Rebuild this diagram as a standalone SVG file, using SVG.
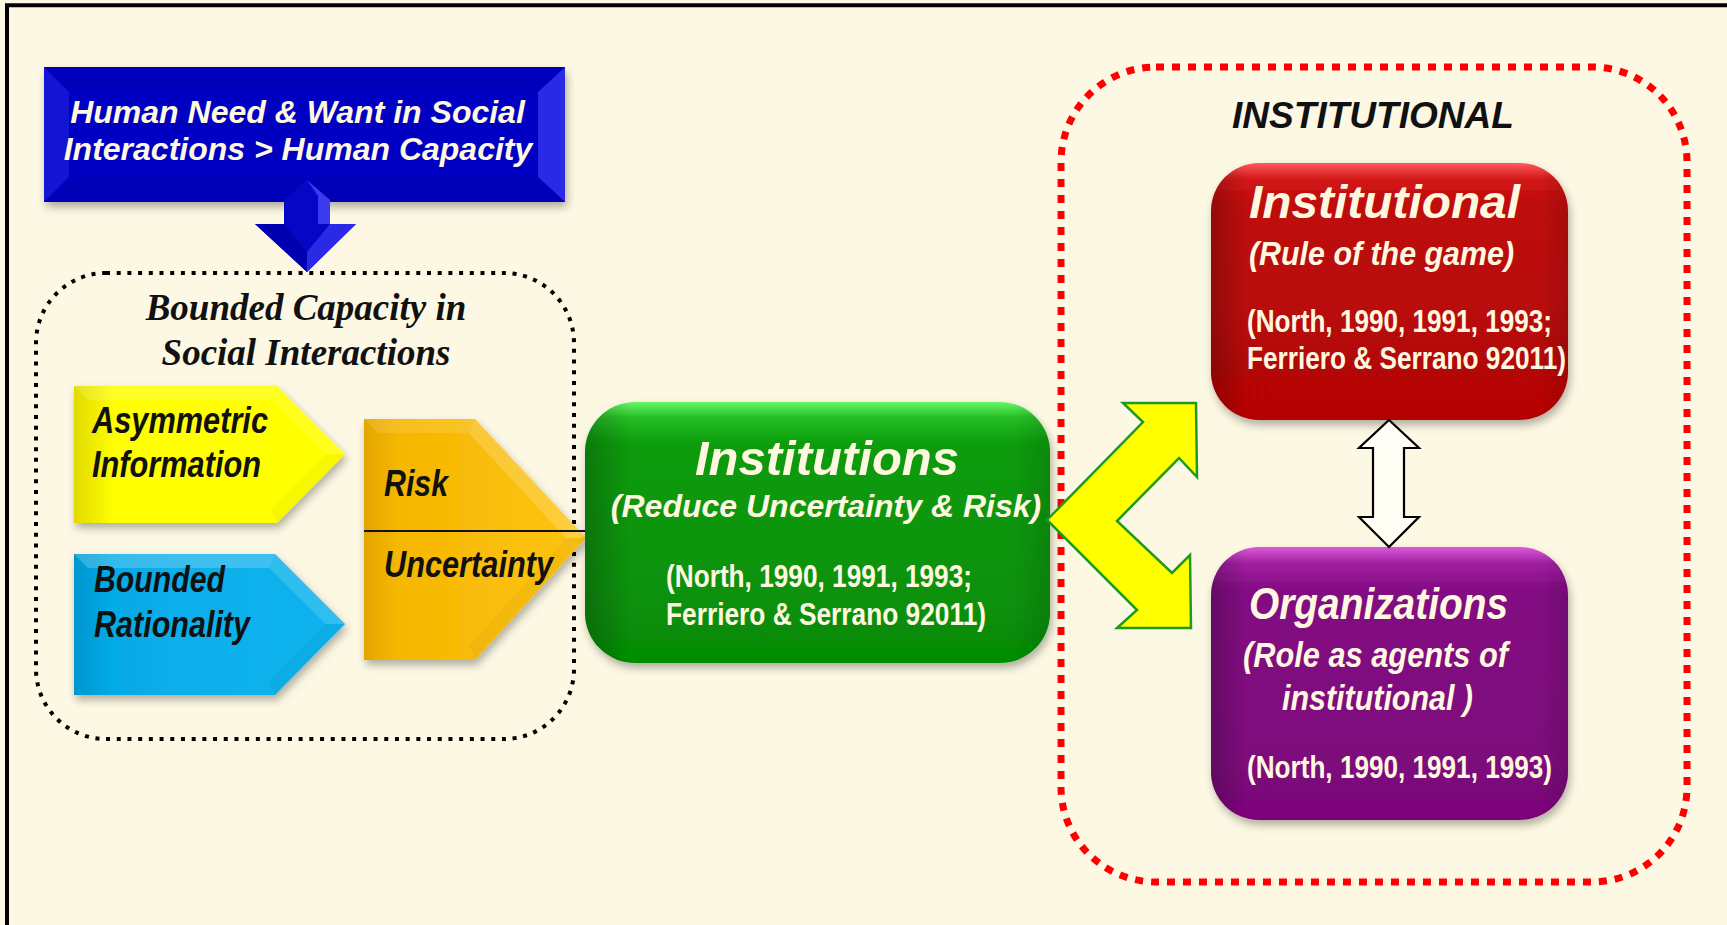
<svg xmlns="http://www.w3.org/2000/svg" width="1727" height="925" viewBox="0 0 1727 925">
<style>
.sb{font-family:"Liberation Sans",Arial,sans-serif;font-weight:bold;font-style:italic}
.nb{font-family:"Liberation Sans Narrow","Liberation Sans",Arial,sans-serif;font-stretch:condensed;font-weight:bold}
.it{font-style:italic}
.serif{font-family:"Liberation Serif","Times New Roman",serif;font-weight:bold;font-style:italic;fill:#111}
.w{fill:#FFF8E0}
.k{fill:#111}
.dotk{fill:none;stroke:#000;stroke-width:4;stroke-dasharray:4 6.7}
.dotr{fill:none;stroke:#FF0000;stroke-width:7;stroke-dasharray:8 8}
.hi{fill:#fff}
.lo{fill:#000}
</style>
<defs>
<filter id="sh" x="-10%" y="-10%" width="125%" height="130%">
<feDropShadow dx="2" dy="5" stdDeviation="4" flood-color="#000" flood-opacity="0.3"/>
</filter>
<linearGradient id="gG" x1="0" y1="0" x2="0" y2="1">
<stop offset="0" stop-color="#66F566"/><stop offset="0.06" stop-color="#26BE26"/><stop offset="0.16" stop-color="#0A9C0A"/><stop offset="1" stop-color="#068C06"/>
</linearGradient>
<linearGradient id="gR" x1="0" y1="0" x2="0" y2="1">
<stop offset="0" stop-color="#FF5A5A"/><stop offset="0.06" stop-color="#D41A1A"/><stop offset="0.16" stop-color="#BE0808"/><stop offset="1" stop-color="#B40606"/>
</linearGradient>
<linearGradient id="gP" x1="0" y1="0" x2="0" y2="1">
<stop offset="0" stop-color="#DA5ADA"/><stop offset="0.06" stop-color="#A020A0"/><stop offset="0.16" stop-color="#820A82"/><stop offset="1" stop-color="#7C067A"/>
</linearGradient>
<linearGradient id="gSide" x1="0" y1="0" x2="1" y2="0">
<stop offset="0" stop-color="#000" stop-opacity="0.22"/><stop offset="0.1" stop-color="#000" stop-opacity="0"/><stop offset="0.92" stop-color="#000" stop-opacity="0"/><stop offset="1" stop-color="#000" stop-opacity="0.12"/>
</linearGradient>
<linearGradient id="gY" x1="0" y1="0" x2="1" y2="0">
<stop offset="0" stop-color="#E2DA00"/><stop offset="0.15" stop-color="#FFFF00"/><stop offset="1" stop-color="#FFFF00"/>
</linearGradient>
<linearGradient id="gC" x1="0" y1="0" x2="1" y2="0">
<stop offset="0" stop-color="#0096CF"/><stop offset="0.15" stop-color="#06ACE8"/><stop offset="1" stop-color="#0AB4EE"/>
</linearGradient>
<linearGradient id="gO" x1="0" y1="0" x2="1" y2="0">
<stop offset="0" stop-color="#E3A500"/><stop offset="0.15" stop-color="#F5B700"/><stop offset="1" stop-color="#FFC414"/>
</linearGradient>
</defs>

<rect x="0" y="0" width="1727" height="925" fill="#FDF8E3"/>
<path d="M7,925 V5.3 H1727" fill="none" stroke="#000" stroke-width="4"/>

<g id="bounded-capacity-group">
<rect class="dotk" x="36" y="273" width="538" height="466" rx="70"/>
<text class="serif" font-size="37" x="306" y="320" text-anchor="middle">Bounded Capacity in</text>
<text class="serif" font-size="37" x="306" y="365" text-anchor="middle">Social Interactions</text>
</g>

<g id="institutional-group">
<rect class="dotr" x="1061" y="67" width="626" height="815" rx="95"/>
<text class="sb k" font-size="36" x="1232" y="128" textLength="282" lengthAdjust="spacingAndGlyphs">INSTITUTIONAL</text>
</g>

<g id="human-need">
<g filter="url(#sh)">
<rect x="44" y="67" width="521" height="135" fill="#0404C2"/>
</g>
<polygon points="44,67 69,92 69,177 44,202" fill="#1414D4"/>
<polygon points="565,67 538,92 538,177 565,202" fill="#2A2AE6"/>
<polygon points="44,67 565,67 538,92 69,92" fill="#0000B4" opacity="0.5"/>
<polygon points="44,202 69,177 538,177 565,202" fill="#0000A8" opacity="0.4"/>
<text class="sb w" font-size="32" x="297.5" y="123" text-anchor="middle">Human Need &amp; Want in Social</text>
<text class="sb w" font-size="32" x="298" y="160" text-anchor="middle">Interactions &gt; Human Capacity</text>
</g>

<g id="asymmetric-information">
<polygon points="74,386 277,386 345,454 277,523 74,523" fill="url(#gY)" filter="url(#sh)"/>
<polygon class="hi" points="74,386 277,386 271,400 88,400" opacity="0.15"/>
<polygon class="hi" points="277,386 345,454 326,454 271,400" opacity="0.12"/>
<polygon class="lo" points="345,454 277,523 271,509 326,454" opacity="0.03"/>
<text class="nb it k" font-size="36" x="92" y="433" textLength="176" lengthAdjust="spacingAndGlyphs">Asymmetric</text>
<text class="nb it k" font-size="36" x="92" y="477" textLength="169" lengthAdjust="spacingAndGlyphs">Information</text>
</g>

<g id="bounded-rationality">
<polygon points="74,554 275,554 345,624 275,695 74,695" fill="url(#gC)" filter="url(#sh)"/>
<polygon class="hi" points="74,554 275,554 269,568 88,568" opacity="0.2"/>
<polygon class="hi" points="275,554 345,624 326,624 269,568" opacity="0.15"/>
<polygon class="lo" points="345,624 275,695 269,681 326,624" opacity="0.03"/>
<text class="nb it k" font-size="36" x="94" y="592" textLength="131" lengthAdjust="spacingAndGlyphs">Bounded</text>
<text class="nb it k" font-size="36" x="94" y="637" textLength="156" lengthAdjust="spacingAndGlyphs">Rationality</text>
</g>

<g id="risk-uncertainty">
<polygon points="364,419 475,419 586,538 475,660 364,660" fill="url(#gO)" filter="url(#sh)"/>
<polygon class="hi" points="364,419 475,419 469,433 378,433" opacity="0.12"/>
<polygon class="hi" points="475,419 586,538 566,538 469,433" opacity="0.18"/>
<polygon class="lo" points="586,538 475,660 469,646 566,538" opacity="0.03"/>
<line x1="364" y1="531" x2="588" y2="531" stroke="#111" stroke-width="2.2"/>
<text class="nb it k" font-size="36" x="384" y="496" textLength="64" lengthAdjust="spacingAndGlyphs">Risk</text>
<text class="nb it k" font-size="36" x="384" y="577" textLength="169" lengthAdjust="spacingAndGlyphs">Uncertainty</text>
</g>

<g id="institutions">
<rect x="585" y="402" width="465" height="261" rx="50" fill="url(#gG)" filter="url(#sh)"/>
<rect x="585" y="402" width="465" height="261" rx="50" fill="url(#gSide)"/>
<text class="sb w" font-size="49" x="827" y="475" text-anchor="middle">Institutions</text>
<text class="sb w" font-size="32" x="826" y="517" text-anchor="middle">(Reduce Uncertainty &amp; Risk)</text>
<text class="nb w" font-size="32" x="666" y="587" textLength="306" lengthAdjust="spacingAndGlyphs">(North, 1990, 1991, 1993;</text>
<text class="nb w" font-size="32" x="666" y="625" textLength="320" lengthAdjust="spacingAndGlyphs">Ferriero &amp; Serrano 92011)</text>
</g>

<g id="institutional-rules">
<rect x="1211" y="163" width="357" height="257" rx="48" fill="url(#gR)" filter="url(#sh)"/>
<rect x="1211" y="163" width="357" height="257" rx="48" fill="url(#gSide)"/>
<text class="sb w" font-size="47" x="1249" y="218" textLength="271" lengthAdjust="spacingAndGlyphs">Institutional</text>
<text class="nb it w" font-size="34" x="1249" y="265" textLength="265" lengthAdjust="spacingAndGlyphs">(Rule of the game)</text>
<text class="nb w" font-size="32" x="1247" y="332" textLength="305" lengthAdjust="spacingAndGlyphs">(North, 1990, 1991, 1993;</text>
<text class="nb w" font-size="32" x="1247" y="369" textLength="319" lengthAdjust="spacingAndGlyphs">Ferriero &amp; Serrano 92011)</text>
</g>

<g id="organizations">
<rect x="1211" y="547" width="357" height="273" rx="48" fill="url(#gP)" filter="url(#sh)"/>
<rect x="1211" y="547" width="357" height="273" rx="48" fill="url(#gSide)"/>
<text class="nb it w" font-size="45" x="1249" y="619" textLength="259" lengthAdjust="spacingAndGlyphs">Organizations</text>
<text class="nb it w" font-size="35" x="1243" y="667" textLength="265" lengthAdjust="spacingAndGlyphs">(Role as agents of</text>
<text class="nb it w" font-size="35" x="1282" y="710" textLength="191" lengthAdjust="spacingAndGlyphs">institutional )</text>
<text class="nb w" font-size="32" x="1247" y="778" textLength="305" lengthAdjust="spacingAndGlyphs">(North, 1990, 1991, 1993)</text>
</g>

<g id="connectors">
<g id="down-arrow">
<polygon points="284,200 307,180 330,200 330,224 356,224 307,272 255,224 284,224" fill="#0606C6"/>
<polygon points="307,180 330,200 330,224 318,224 318,196" fill="#3A3AF0"/>
<polygon points="330,224 356,224 307,272 307,252" fill="#2A2AE6"/>
<polygon points="255,224 284,224 307,252 307,272" fill="#0000B0"/>
</g>
<polygon id="fork-arrow" points="1047,520 1143,422 1123,403 1196,403 1197,477 1179,458 1117,521 1172,573 1190,555 1191,628 1117,628 1137,610" fill="#FFFF00" stroke="#1E9A1E" stroke-width="2.5" stroke-linejoin="miter"/>
<polygon id="double-arrow" points="1389,420 1419,448 1404,448 1404,517 1419,517 1389,547 1359,517 1373,517 1373,448 1359,448" fill="#FFFDF4" stroke="#000" stroke-width="2.2"/>
</g>
</svg>
